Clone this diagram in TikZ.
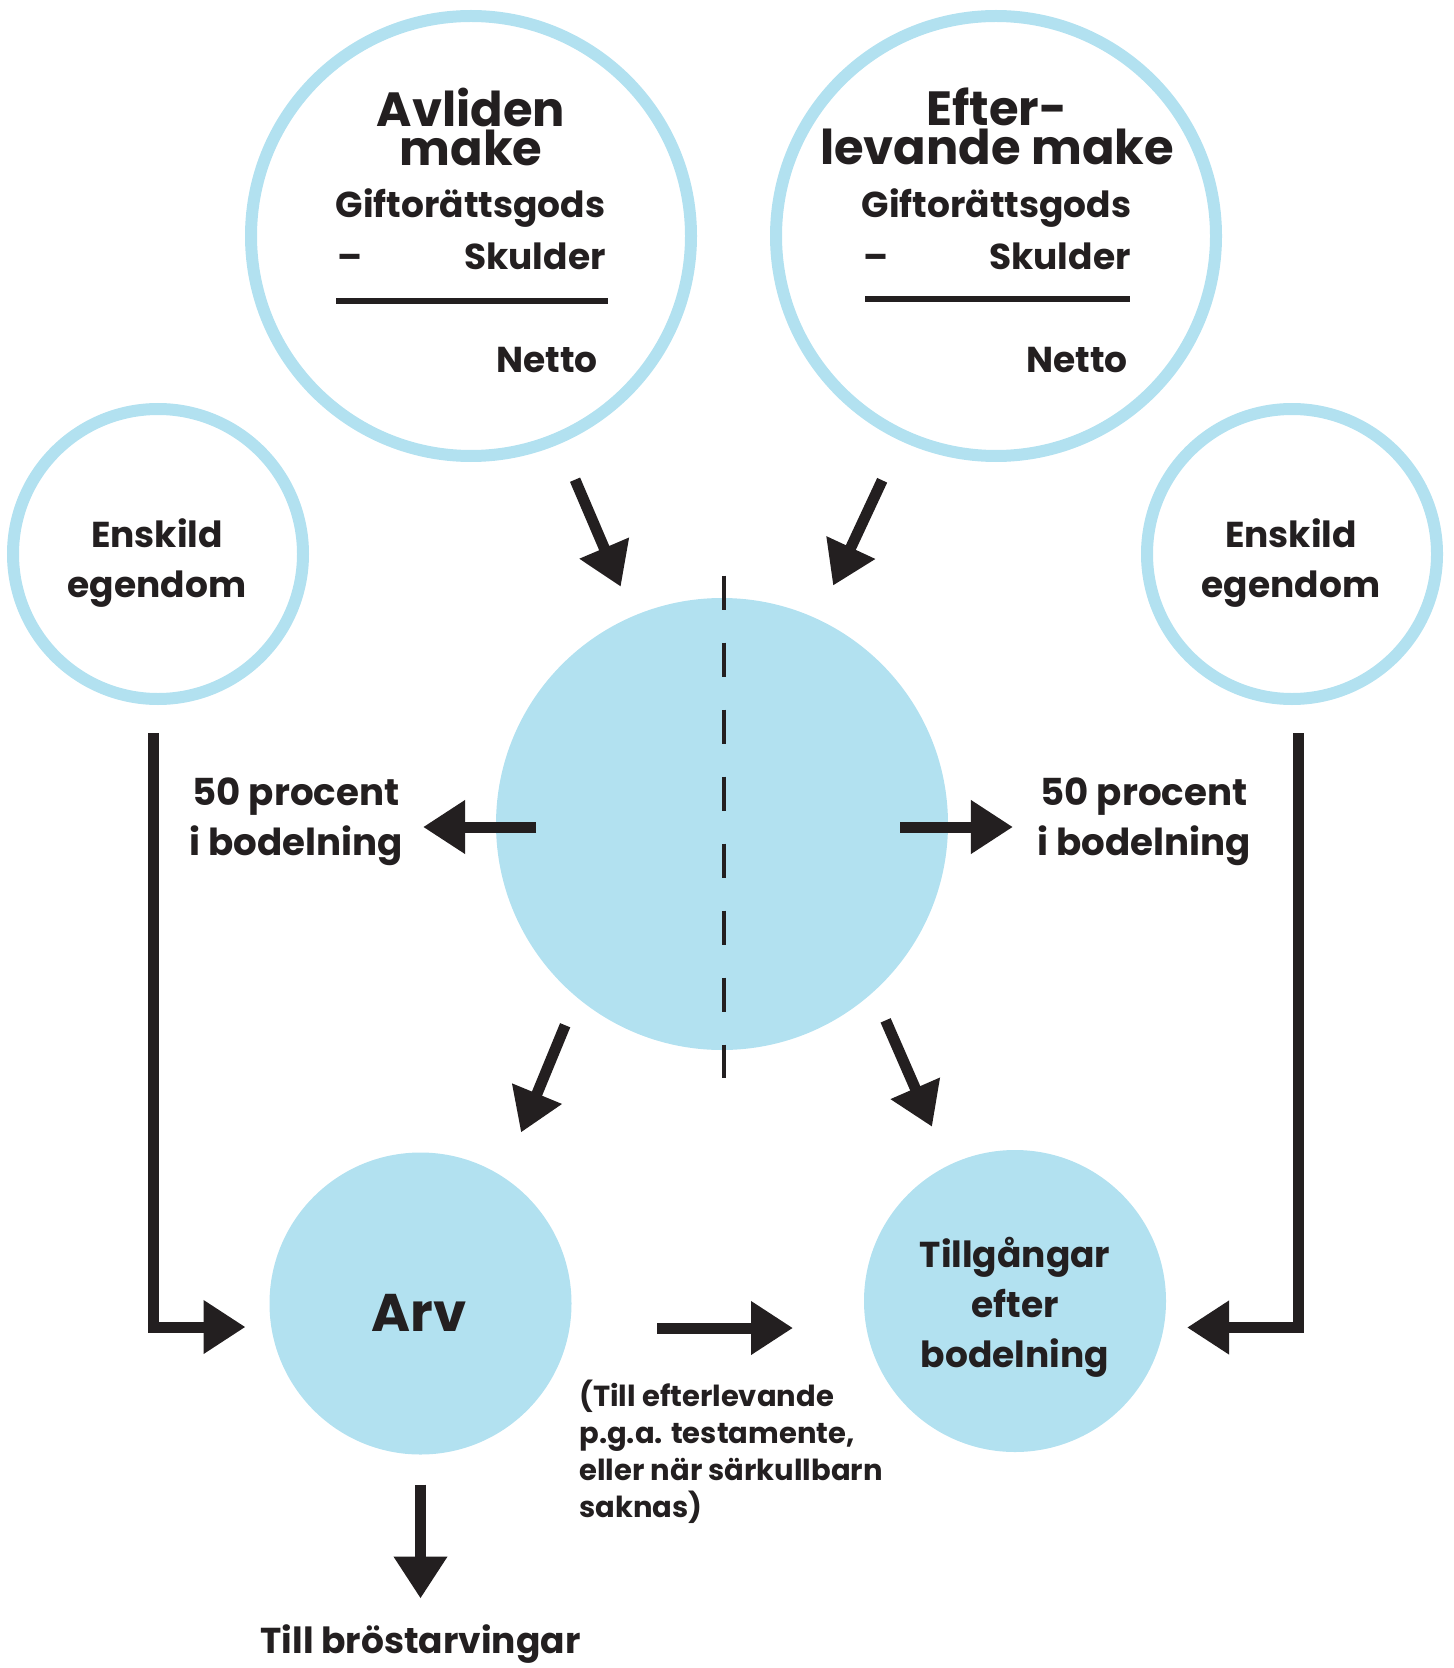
\documentclass[tikz,border=0pt]{standalone}
\usepackage{fontspec}
\setmainfont{Poppins}
\usetikzlibrary{positioning}
\usetikzlibrary{arrows.meta}
\definecolor{ljusbla}{HTML}{B2E1F0}
\definecolor{mork}{HTML}{231F20}

\begin{document}
\begin{tikzpicture}[x=0.5pt, y=-0.5pt,
    ring/.style = {draw=ljusbla, circle, line width=6pt, inner sep=0pt},
    skiva/.style = {fill=ljusbla, circle, inner sep=0pt, outer sep=0pt},
    txt/.style = {text=mork, inner sep=0pt, align=center, font=\bfseries\fontsize{18}{25}\selectfont},
    rubrik/.style = {txt, font=\bfseries\fontsize{24}{19.5}\selectfont},
    liten/.style = {txt, align=left, font=\bfseries\fontsize{14.5}{18.5}\selectfont},
    pil/.style = {draw=mork, line width=5.5pt, -{Triangle[length=21pt, width=25.5pt]}},
    streck/.style = {draw=mork, line width=2pt, dash pattern=on 17pt off 16.5pt}]
    \useasboundingbox (0,0) rectangle (1454,1668);
    % cirklarna
    \node[ring, minimum size=220pt] (avliden) at (471,236) {};
    \node[ring, minimum size=220pt] (efter) at (996,236) {};
    \node[ring, minimum size=145pt] (ensA) at (158,554) {};
    \node[ring, minimum size=145pt] (ensB) at (1292,554) {};
    \node[skiva, minimum size=226pt] (bo) at (722,824) {};
    \node[skiva, minimum size=151pt] (arv) at (420.5,1303.5) {};
    \node[skiva, minimum size=151pt] (till) at (1015,1301) {};
    % texter
    \node[rubrik] (avlidenT) at (471,126.5) {Avliden\\make};
    \node[rubrik] (efterT) at (997,126.5) {Efter-\\levande make};
    \node[txt, anchor=base] (gift1) at (470.5,218) {Giftorättsgods};
    \node[txt, anchor=base west] (minus1) at (337,270) {–};
    \node[txt, anchor=base east] (skuld1) at (606,270) {Skulder};
    \node[txt, anchor=base east] (netto1) at (598,373) {Netto};
    \node[txt, anchor=base] (gift2) at (996.5,218) {Giftorättsgods};
    \node[txt, anchor=base west] (minus2) at (863,270) {–};
    \node[txt, anchor=base east] (skuld2) at (1131,270) {Skulder};
    \node[txt, anchor=base east] (netto2) at (1128,373) {Netto};
    \node[txt] (ensAT) at (157,563.4) {Enskild\\egendom};
    \node[txt] (ensBT) at (1291,563.4) {Enskild\\egendom};
    \node[txt, font=\bfseries\fontsize{18.6}{25}\selectfont] (pctA) at (296,822) {50 procent\\i bodelning};
    \node[txt, font=\bfseries\fontsize{18.6}{25}\selectfont] (pctB) at (1144,822) {50 procent\\i bodelning};
    \node[txt, anchor=base, font=\bfseries\fontsize{26.5}{30}\selectfont] (arvT) at (419,1331) {Arv};
    \node[txt] (tillT) at (1015,1307.7) {Tillgångar\\efter\\bodelning};
    \node[liten, anchor=north west] (villkor) at (579,1380) {(Till efterlevande\\p.g.a. testamente,\\eller när särkullbarn\\saknas)};
    \node[txt, below=85pt of arv] (brost) {Till bröstarvingar};
    % linjer
    \draw[mork, line width=3pt] (336,301.5) -- (608,301.5);
    \draw[mork, line width=3pt] (865,299) -- (1130,299);
    \draw[streck] ([shift={(1pt,11.25pt)}]bo.north) -- ([shift={(1pt,-14pt)}]bo.south);
    % pilar
    \draw[pil, shorten <=19.5pt, shorten >=16pt] (avliden) -- (bo);
    \draw[pil, shorten <=21.75pt, shorten >=18.5pt] (efter) -- (bo);
    \draw[pil, shorten >=10pt] ([shift={(20pt,-1.5pt)}]bo.west) -- ([yshift=-1.5pt]bo.west -| pctA.east);
    \draw[pil, shorten >=12pt] ([shift={(-24pt,-1.5pt)}]bo.east) -- ([yshift=-1.5pt]bo.east -| pctB.west);
    \draw[pil, shorten <=15.2pt, shorten >=24pt] (bo.230) -- (arv.57);
    \draw[pil, shorten <=15.5pt, shorten >=21pt] (bo.312) -- (till.116);
    \draw[pil, shorten <=14pt, shorten >=12pt] ([xshift=-2.25pt]ensA.south) |- ([yshift=-11.75pt]arv.west);
    \draw[pil, shorten <=14pt, shorten >=10.5pt] ([xshift=3pt]ensB.south) |- ([yshift=-13.25pt]till.east);
    \draw[pil, shorten <=42.75pt, shorten >=35.5pt] ([yshift=-12.25pt]arv.east) -- ([yshift=-13.5pt]till.west);
    \draw[pil, shorten <=15pt, shorten >=13pt] (arv) -- (brost);
\end{tikzpicture}
\end{document}
